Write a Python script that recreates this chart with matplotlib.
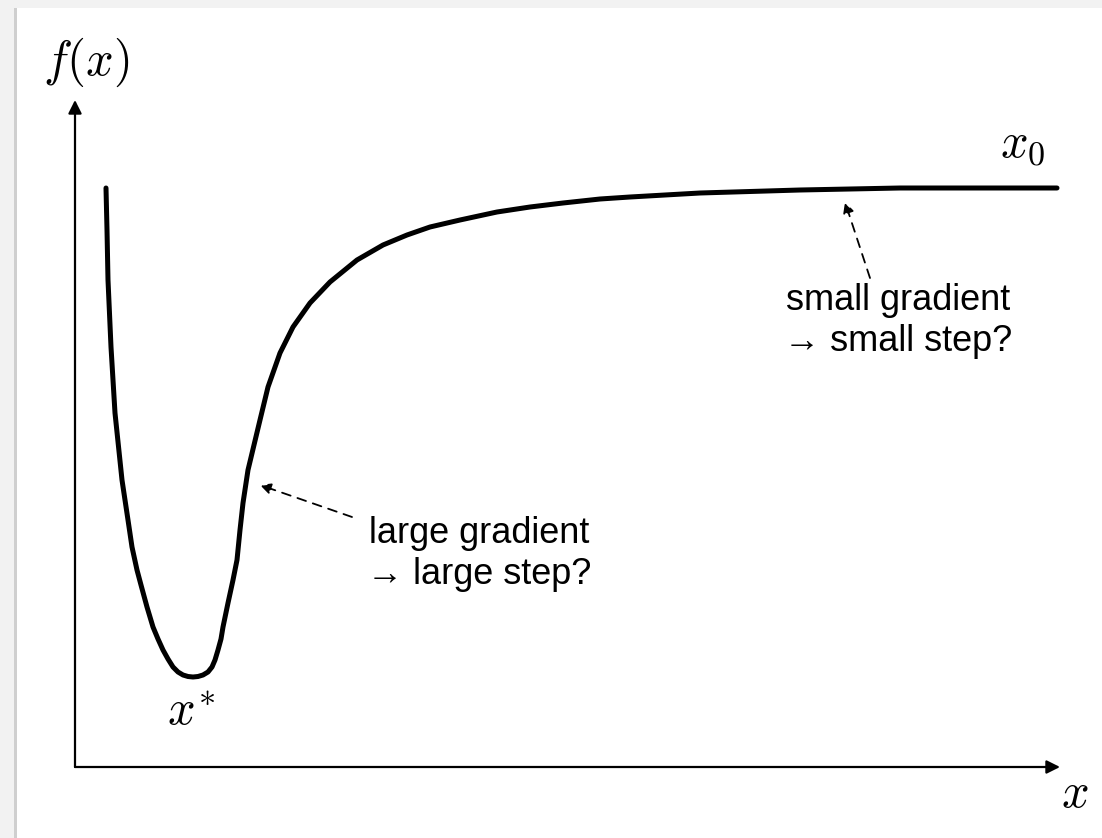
import matplotlib
matplotlib.use("Agg")
import matplotlib.pyplot as plt
from matplotlib.patches import Rectangle

plt.rcParams['mathtext.fontset'] = 'cm'
plt.rcParams['font.family'] = ['Liberation Sans', 'DejaVu Sans']

# curve (axis origin = (0, 0))
curve_x = [0.31, 0.32, 0.33, 0.36, 0.40, 0.47, 0.53, 0.57, 0.62, 0.66, 0.72, 0.78,
           0.83, 0.88, 0.93, 0.98, 1.03, 1.08, 1.13, 1.18, 1.23, 1.28, 1.33, 1.37,
           1.40, 1.43, 1.46, 1.48, 1.53, 1.58, 1.62, 1.65,
           1.68, 1.73, 1.79, 1.85, 1.93, 2.05, 2.18, 2.35, 2.55, 2.82, 3.08, 3.32,
           3.55, 3.85, 4.22, 4.55, 4.88, 5.25, 5.55, 6.25, 7.25, 8.25, 9.25, 9.82]
curve_y = [5.79, 5.37, 4.87, 4.20, 3.54, 2.87, 2.47, 2.20, 1.97, 1.82, 1.60, 1.40,
           1.28, 1.17, 1.08, 1.00, 0.95, 0.92, 0.905, 0.90, 0.905, 0.92, 0.95, 1.00,
           1.07, 1.17, 1.28, 1.40, 1.64, 1.87, 2.07, 2.37,
           2.64, 2.97, 3.22, 3.47, 3.80, 4.14, 4.40, 4.64, 4.85, 5.07, 5.22, 5.32,
           5.40, 5.47, 5.55, 5.60, 5.64, 5.68, 5.70, 5.74, 5.77, 5.79, 5.79, 5.79]

x_axis_end = 9.85
y_axis_end = 6.67

small_label = "small gradient\n\u2192 small step?"
large_label = "large gradient\n\u2192 large step?"

fig = plt.figure(figsize=(11.02, 8.38), dpi=100, facecolor='#f2f2f2')
# white page with a faint shadow on the left
fig.patches.append(Rectangle((14 / 1102, 0), 4 / 1102, 830 / 838, transform=fig.transFigure,
                             facecolor='#cfcfcf', edgecolor='none', zorder=-10))
fig.patches.append(Rectangle((17 / 1102, 0), 1, 830 / 838, transform=fig.transFigure,
                             facecolor='white', edgecolor='none', zorder=-9))

ax = fig.add_axes([0, 0, 1, 1])
ax.set_xlim(-0.75, 10.27)
ax.set_ylim(-0.71, 7.67)
ax.axis('off')
ax.patch.set_alpha(0)

# axes with arrow heads
axis_arrow = dict(arrowstyle='-|>', lw=1.6, color='black', mutation_scale=20,
                  shrinkA=0, shrinkB=0)
ax.annotate('', xy=(x_axis_end, 0), xytext=(0, 0), arrowprops=axis_arrow)
ax.annotate('', xy=(0, y_axis_end), xytext=(0, 0), arrowprops=axis_arrow)

ax.plot(curve_x, curve_y, color='black', lw=3.6, solid_capstyle='round',
        solid_joinstyle='round')

ax.text(0.11, 7.05, r'$f(x)$', fontsize=35, ha='center', va='center')
ax.text(10.0, -0.27, r'$x$', fontsize=35, ha='center', va='center')
ax.text(9.48, 6.22, r'$x_0$', fontsize=35, ha='center', va='center')
ax.text(1.16, 0.55, r'$x^{\!*}$', fontsize=35, ha='center', va='center')

dash_arrow = dict(arrowstyle='-|>', lw=1.3, color='black', linestyle=(0, (5, 4)),
                  mutation_scale=16, shrinkA=0, shrinkB=0)
ax.annotate('', xy=(7.70, 5.65), xytext=(7.95, 4.89), arrowprops=dash_arrow)
ax.annotate('', xy=(1.85, 2.82), xytext=(2.77, 2.50), arrowprops=dash_arrow)

ax.text(8.23, 4.46, small_label, fontsize=26, ha='center', va='center',
        multialignment='center', linespacing=1.25)
ax.text(4.04, 2.13, large_label, fontsize=26, ha='center', va='center',
        multialignment='center', linespacing=1.25)

fig.savefig('out.png', dpi=100, facecolor=fig.get_facecolor())
